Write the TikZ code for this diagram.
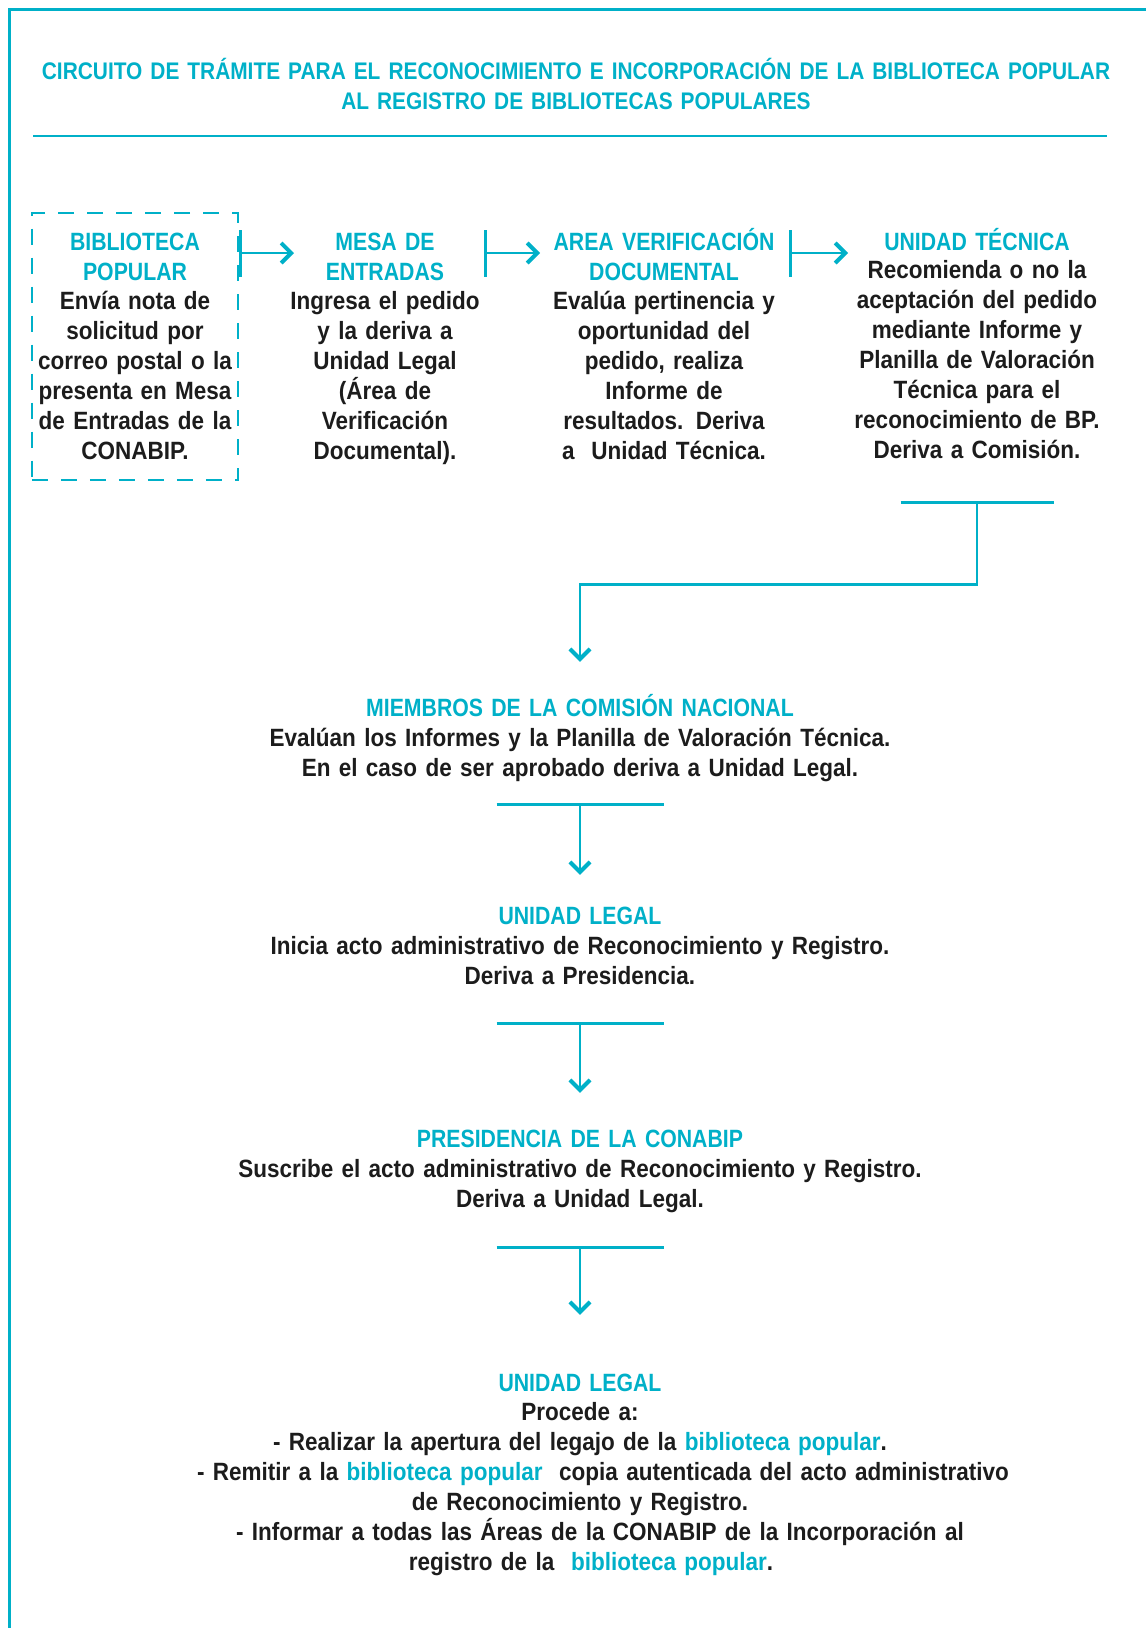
\documentclass[tikz,border=0pt]{standalone}
\usepackage{fontspec}
\setmainfont{Liberation Sans}
\newfontfamily\bodyfont{Liberation Sans}[FakeStretch=0.9]
\newfontfamily\headfont{Liberation Sans}[FakeStretch=0.85]
\newfontfamily\titlefont{Liberation Sans}[FakeStretch=0.87]
\usetikzlibrary{arrows.meta,fit}
\definecolor{cy}{RGB}{0,176,200}
\definecolor{ink}{RGB}{28,28,28}
\newcommand{\bp}[1]{\textcolor{cy}{#1}}

\begin{document}
\begin{tikzpicture}[x=1pt,y=-1pt,
    head/.style={text=cy, font=\headfont\bfseries\fontsize{25}{30}\selectfont,
      align=center, text width=#1, anchor=base, inner sep=0pt,
      execute at begin node={\rule{0pt}{23pt}},
      execute at end node={\rule[-7pt]{0pt}{7pt}}},
    head/.default=270pt,
    body/.style={text=ink, font=\bodyfont\bfseries\fontsize{25}{30}\selectfont,
      align=center, text width=#1, anchor=base, inner sep=0pt,
      execute at begin node={\rule{0pt}{23pt}},
      execute at end node={\rule[-7pt]{0pt}{7pt}}},
    body/.default=270pt,
    tee/.style={draw=cy, line width=2.6pt,
      {Bar[width=#1]}-{Straight Barb[length=10pt,width=20pt,line width=4pt]}},
    up/.style={transform canvas={yshift=4pt}}]
  \useasboundingbox (0,0) rectangle (1146,1628);

  % frame and title
  \draw[cy, line width=3pt] (9,1628) -- (9,9) -- (1146,9);
  \node[head=1120pt, font=\titlefont\bfseries\fontsize{24}{30}\selectfont] (ttl) at (576,79)
    {CIRCUITO DE TRÁMITE PARA EL RECONOCIMIENTO E INCORPORACIÓN DE LA BIBLIOTECA POPULAR\\
     AL REGISTRO DE BIBLIOTECAS POPULARES};
  \draw[cy, line width=2.5pt] (33,136) -- (1107,136);

  % top row
  \node[head=200pt] (bpT) at (135,250) {BIBLIOTECA\\POPULAR};
  \node[body=200pt] (bpB) at (135,309) {Envía nota de\\solicitud por\\correo postal o la\\
    presenta en Mesa\\de Entradas de la\\CONABIP.};
  \node[draw=cy, line width=2.5pt, dash pattern=on 16pt off 13pt,
    inner xsep=3pt, inner ysep=14pt, fit=(bpT)(bpB)] (bp) {};

  \node[head] (mesaT) at (385,250) {MESA DE\\ENTRADAS};
  \node[body] (mesaB) at (385,309) {Ingresa el pedido\\y la deriva a\\Unidad Legal\\
    (Área de\\Verificación\\Documental).};

  \node[head] (areaT) at (664,250) {AREA VERIFICACIÓN\\DOCUMENTAL};
  \node[body] (areaB) at (664,309) {Evalúa pertinencia y\\oportunidad del\\pedido, realiza\\
    Informe de\\resultados. Deriva\\a~~Unidad Técnica.};

  \node[head] (tecT) at (977,250) {UNIDAD TÉCNICA};
  \node[body] (tecB) at (977,278) {Recomienda o no la\\aceptación del pedido\\
    mediante Informe y\\Planilla de Valoración\\Técnica para el\\
    reconocimiento de BP.\\Deriva a Comisión.};

  \draw[tee=47pt, up] (bp.east |- mesaT.center) -- ([xshift=-91pt]mesaT.center);
  \draw[tee=47pt, up] ([xshift=99pt]mesaT.center) -- ([xshift=-124pt]areaT.center);
  \draw[tee=47pt, up] ([xshift=125pt]areaT.center) -- ++(59,0);

  % column below
  \node[head=900pt] (mieT) at (580,716) {MIEMBROS DE LA COMISIÓN NACIONAL};
  \node[body=900pt] (mieB) at (580,746) {Evalúan los Informes y la Planilla de Valoración Técnica.\\
    En el caso de ser aprobado deriva a Unidad Legal.};

  \node[head=900pt] (leg1T) at (580,924) {UNIDAD LEGAL};
  \node[body=900pt] (leg1B) at (580,954) {Inicia acto administrativo de Reconocimiento y Registro.\\
    Deriva a Presidencia.};

  \node[head=900pt] (presT) at (580,1147) {PRESIDENCIA DE LA CONABIP};
  \node[body=900pt] (presB) at (580,1177) {Suscribe el acto administrativo de Reconocimiento y Registro.\\
    Deriva a Unidad Legal.};

  \node[head=900pt] (leg2T) at (580,1391) {UNIDAD LEGAL};
  \node[body=900pt] (leg2B) at (580,1420) {Procede a:\\
    - Realizar la apertura del legajo de la \bp{biblioteca popular}.\\
    \hspace*{46pt}- Remitir a la \bp{biblioteca popular}~ copia autenticada del acto administrativo\\
    de Reconocimiento y Registro.\\
    \hspace*{40pt}- Informar a todas las Áreas de la CONABIP de la Incorporación al\\
    \hspace*{22pt}registro de la~ \bp{biblioteca popular}.};

  \draw[tee=153pt] ([yshift=-36pt]tecB.south) -- ++(0,83) -| ([yshift=31pt]mieT.north);
  \draw[tee=167pt] ([yshift=-20pt]mieB.south) -- ([yshift=26pt]leg1T.north);
  \draw[tee=167pt] ([yshift=-31pt]leg1B.south) -- ([yshift=31pt]presT.north);
  \draw[tee=167pt] ([yshift=-32pt]presB.south) -- ([yshift=53pt]leg2T.north);
\end{tikzpicture}
\end{document}
